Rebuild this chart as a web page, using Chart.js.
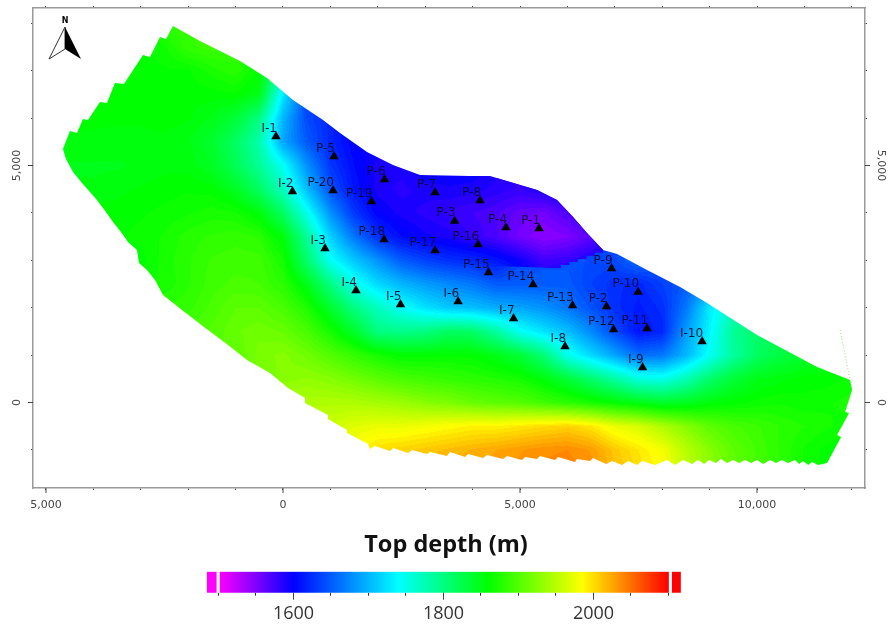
<!DOCTYPE html>
<html lang="en">
<head>
    <title>Top depth map</title>
    <script src="https://cdn.jsdelivr.net/npm/chart.js"></script>
    <style>
        html, body { margin: 0; background: #fff; overflow: hidden; }
        canvas { position: absolute; left: 0; filter: blur(0.5px); }
        #mapChart { top: 0; }
        #barChart { top: 525px; }
    </style>
</head>
<body>
    <canvas id="mapChart" width="888" height="525"></canvas>
    <canvas id="barChart" width="892" height="100"></canvas>
    <script>
        // wells, metres on the map
        const wellNames = ['I-1','I-2','I-3','I-4','I-5','I-6','I-7','I-8','I-9','I-10','P-1','P-2','P-3','P-4','P-5','P-6','P-7','P-8','P-9','P-10','P-11','P-12','P-13','P-14','P-15','P-16','P-17','P-18','P-19','P-20'];
        const wellX = [-148,200,886,1540,2479,3693,4864,5950,7585,8841,5402,6826,3619,4705,1076,2142,3207,4157,6931,7491,7680,6974,6108,5275,4336,4115,3207,2131,1867,1055];
        const wellY = [5614,4454,3251,2365,2069,2133,1774,1183,740,1289,3673,2027,3831,3694,5192,4707,4433,4264,2829,2333,1563,1542,2048,2491,2745,3335,3209,3441,4243,4475];

        const xTicks = [-5000,-4000,-3000,-2000,-1000,0,1000,2000,3000,4000,5000,6000,7000,8000,9000,10000,11000,12000];
        const yTicks = [-1000,0,1000,2000,3000,4000,5000,6000,7000,8000];

        // depth every 500 m
        const gridX = [-5000,-4500,-4000,-3500,-3000,-2500,-2000,-1500,-1000,-500,0,500,1000,1500,2000,2500,3000,3500,4000,4500,5000,5500,6000,6500,7000,7500,8000,8500,9000,9500,10000,10500,11000,11500,12000];
        const gridY = [8000,7500,7000,6500,6000,5500,5000,4500,4000,3500,3000,2500,2000,1500,1000,500,0,-500,-1000,-1500];
        const depthRows = [
            [1860,1860,1860,1860,1860,1880,1888, 1890,1885,1860,1800,1700,1650,1620, 1600,1600,1600,1600,1600,1600,1600, 1600,1600,1600,1600,1600,1600,1600, 1600,1600,1600,1600,1600,1600,1600],
            [1860,1860,1860,1860,1860,1868,1885, 1890,1885,1860,1800,1700,1650,1620, 1600,1600,1600,1600,1600,1600,1600, 1600,1600,1600,1600,1600,1600,1600, 1600,1600,1600,1600,1600,1600,1600],
            [1860,1860,1860,1860,1860,1862,1862, 1872,1880,1860,1790,1680,1640,1620, 1600,1600,1600,1600,1600,1600,1600, 1600,1600,1600,1600,1600,1600,1600, 1600,1600,1600,1600,1600,1600,1600],
            [1860,1860,1860,1860,1858,1860,1860, 1860,1862,1850,1730,1640,1620,1600, 1600,1600,1600,1600,1600,1600,1600, 1600,1600,1600,1600,1600,1600,1600, 1600,1600,1600,1600,1600,1600,1600],
            [1858,1858,1858,1858,1858,1860,1858, 1850,1835,1800,1700,1640,1620,1600, 1600,1600,1600,1600,1600,1600,1600, 1600,1600,1600,1600,1600,1600,1600, 1600,1600,1600,1600,1600,1600,1600],
            [1856,1856,1856,1855,1855,1855,1852, 1840,1815,1780,1690,1650,1620,1600, 1600,1600,1600,1600,1600,1600,1600, 1600,1600,1600,1600,1600,1600,1600, 1600,1600,1600,1600,1600,1600,1600],
            [1850,1850,1850,1850,1852,1855,1855, 1845,1820,1790,1745,1680,1630,1605, 1590,1590,1600,1600,1600,1590,1590, 1600,1600,1600,1600,1600,1600,1600, 1600,1600,1600,1600,1600,1600,1600],
            [1852,1852,1852,1855,1858,1860,1862, 1860,1845,1815,1770,1705,1645,1610, 1590,1585,1590,1592,1590,1585,1580, 1590,1600,1610,1620,1620,1620,1620, 1620,1620,1620,1620,1620,1620,1620],
            [1860,1860,1860,1860,1862,1865,1868, 1872,1870,1855,1815,1750,1680,1630, 1600,1590,1585,1580,1575,1570,1560, 1555,1570,1590,1610,1620,1620,1620, 1620,1620,1620,1620,1620,1620,1620],
            [1862,1862,1862,1862,1865,1870,1878, 1882,1885,1880,1855,1790,1715,1665, 1625,1605,1595,1590,1580,1570,1570, 1600,1620,1630,1635,1640,1650,1660, 1680,1680,1680,1680,1680,1680,1680],
            [1860,1860,1860,1860,1860,1872,1880, 1888,1890,1890,1870,1810,1745,1710, 1680,1650,1635,1625,1620,1610,1640, 1645,1645,1640,1640,1660,1650,1660, 1690,1700,1720,1740,1760,1780,1800],
            [1865,1865,1865,1865,1868,1870,1880, 1890,1895,1893,1880,1850,1800,1750, 1720,1700,1685,1675,1665,1650,1650, 1650,1650,1635,1625,1620,1635,1650, 1670,1700,1740,1780,1800,1820,1840],
            [1880,1880,1880,1880,1880,1882,1885, 1895,1905,1905,1895,1875,1840,1800, 1770,1745,1725,1710,1705,1695,1690, 1680,1665,1645,1625,1615,1625,1665, 1730,1770,1800,1820,1835,1850,1860],
            [1895,1895,1895,1895,1895,1895,1895, 1900,1910,1915,1910,1895,1870,1840, 1800,1795,1800,1815,1812,1785,1745, 1725,1705,1675,1640,1610,1620,1685, 1735,1790,1810,1825,1840,1850,1860],
            [1905,1905,1905,1905,1905,1905,1905, 1905,1905,1920,1925,1915,1900,1885, 1870,1860,1860,1862,1860,1850,1835, 1805,1750,1720,1690,1660,1665,1700, 1745,1785,1815,1830,1840,1850,1860],
            [1915,1915,1915,1915,1915,1915,1915, 1915,1915,1915,1925,1930,1925,1915, 1905,1895,1890,1885,1880,1875,1870, 1855,1835,1810,1785,1755,1750,1775, 1810,1835,1850,1855,1860,1860,1865],
            [1930,1930,1930,1930,1930,1930,1930, 1930,1930,1930,1945,1945,1945,1945, 1940,1935,1925,1920,1910,1905,1900, 1890,1880,1870,1860,1850,1840,1845, 1855,1860,1865,1868,1865,1868,1872],
            [1960,1960,1960,1960,1960,1960,1960, 1960,1960,1960,1960,1960,1960,1970, 1975,1975,1980,1985,1990,1990,1995, 2000,2005,1995,1975,1965,1945,1925, 1905,1895,1888,1880,1875,1870,1865],
            [1985,1985,1985,1985,1985,1985,1985, 1985,1985,1985,1985,1985,1985,1985, 2000,2005,2010,2015,2020,2025,2030, 2035,2037,2030,2010,1995,1980,1950, 1925,1905,1892,1880,1868,1860,1855],
            [1995,1995,1995,1995,1995,1995,1995, 1995,1995,1995,1995,1995,1995,1995, 2005,2010,2015,2020,2025,2030,2035, 2040,2042,2035,2015,2000,1985,1955, 1930,1910,1895,1882,1870,1860,1855]
        ];

        // block north of the fault, deeper blue
        const blockX = [4500,5000,5500,6000,6500,7000];
        const blockY = [4500,4000,3500,3000,2500];
        const blockRows = [
            [1585,1580,1590,1600,1610,1620],
            [1570,1560,1555,1570,1590,1610],
            [1570,1555,1545,1550,1565,1590],
            [1610,1595,1575,1580,1590,1600],
            [1640,1620,1600,1600,1600,1610]
        ];
        const blockOutline = [[4494,2880],[5676,2838],[5860,2838],[5860,2900],[6040,2900],[6040,2965],[6220,2965],[6220,3030],[6400,3030],[6400,3095],[6580,3095],[6580,3160],[6752,3160],[6752,4800],[4494,4800]];

        // edge of the gridded area
        const fieldOutline = [[-2321,7944],[-1751,7628],[-907,7206],[-338,6847],[211,6383],[844,5961],[1203,5687],[1772,5286],[2321,5011],[2891,4800],[3946,4779],[4368,4779],[4790,4653],[5359,4484],[5781,4273],[6119,3914],[6414,3576],[6752,3218],[7047,3133],[7680,2796],[8377,2437],[8946,2097],[10001,1424],[11267,749],[11964,475],
            [12006,264],[11858,-200],[11943,-222],[11689,-686],[11774,-728],[11478,-1277],
            [11288,-1319],[11162,-1255],[11078,-1319],[10972,-1234],[10888,-1298],[10803,-1213],[10655,-1277],[10529,-1213],[10402,-1277],[10276,-1213],[10128,-1298],[10001,-1213],[9875,-1277],[9748,-1213],[9622,-1277],[9495,-1213],[9368,-1277],[9242,-1192],[9136,-1277],[8989,-1213],[8883,-1298],[8757,-1213],[8630,-1298],[8440,-1213],[8271,-1319],[8102,-1213],[7849,-1319],[7575,-1234],[7469,-1319],[7280,-1234],[7153,-1319],[6942,-1234],[6815,-1298],[6541,-1171],[6478,-1234],[6203,-1192],[6161,-1255],[5803,-1150],[5739,-1213],[5423,-1129],[5359,-1192],[5106,-1150],[5043,-1213],[4726,-1129],[4642,-1192],[4304,-1108],[4220,-1171],[3904,-1087],[3840,-1150],[3524,-1044],[3460,-1129],[3102,-1044],[3038,-1087],[2722,-1002],[2638,-1066],[2321,-960],[2258,-1023],[1941,-918],[1836,-981],
            [1794,-876],[1350,-644],[1350,-580],[949,-348],[949,-264],[464,-11],[464,95],[105,306],[-274,622],[-760,897],[-1160,1213],[-1667,1593],[-2131,1952],[-2532,2268],[-2701,2585],[-2870,2796],[-3038,2943],[-3081,3218],[-3270,3387],[-3418,3598],[-3587,3809],[-3735,4020],[-3925,4273],[-4072,4442],[-4241,4631],[-4431,4864],[-4579,5138],[-4642,5349],[-4494,5729],[-4347,5687],[-4220,5982],[-4115,5961],[-3861,6341],[-3714,6320],[-3545,6742],[-3355,6721],[-2954,7333],[-2806,7290],[-2595,7712],[-2469,7670]];

        // colour bar
        const colorDepths = [1500,1600,1740,1860,1985,2100];
        const colorValues = [[255,0,255],[0,0,255],[0,255,255],[0,255,0],[255,255,0],[255,0,0]];
        const barLabels = [1600,1800,2000];

        function depthColor(v) {
            if (v <= colorDepths[0]) return colorValues[0];
            for (let i = 1; i < colorDepths.length; i++) {
                if (v <= colorDepths[i]) {
                    const t = (v - colorDepths[i - 1]) / (colorDepths[i] - colorDepths[i - 1]);
                    return colorValues[i].map((c, k) => Math.round(colorValues[i - 1][k] + (c - colorValues[i - 1][k]) * t));
                }
            }
            return colorValues[colorValues.length - 1];
        }

        function sample(xs, ys, rows, x, y) {
            const stepX = xs[1] - xs[0], stepY = ys[0] - ys[1];
            let fx = (x - xs[0]) / stepX, fy = (ys[0] - y) / stepY;
            fx = Math.max(0, Math.min(xs.length - 1.001, fx));
            fy = Math.max(0, Math.min(ys.length - 1.001, fy));
            const i = Math.floor(fx), j = Math.floor(fy), a = fx - i, b = fy - j;
            return (rows[j][i] * (1 - a) + rows[j][i + 1] * a) * (1 - b) + (rows[j + 1][i] * (1 - a) + rows[j + 1][i + 1] * a) * b;
        }

        function tracePolygon(ctx, chart, pts) {
            ctx.beginPath();
            pts.forEach((p, i) => {
                const px = chart.scales.x.getPixelForValue(p[0]), py = chart.scales.y.getPixelForValue(p[1]);
                if (i === 0) ctx.moveTo(px, py); else ctx.lineTo(px, py);
            });
            ctx.closePath();
        }

        function renderField(chart, xs, ys, rows) {
            const area = chart.chartArea;
            const w = Math.ceil(area.width), h = Math.ceil(area.height);
            const off = document.createElement('canvas');
            off.width = w; off.height = h;
            const octx = off.getContext('2d');
            const img = octx.createImageData(w, h);
            for (let py = 0; py < h; py++) {
                const y = chart.scales.y.getValueForPixel(area.top + py + 0.5);
                for (let px = 0; px < w; px++) {
                    const x = chart.scales.x.getValueForPixel(area.left + px + 0.5);
                    // contour bands like the original
                    const v = Math.round(sample(xs, ys, rows, x, y) / 6) * 6;
                    const c = depthColor(v), k = (py * w + px) * 4;
                    img.data[k] = c[0]; img.data[k + 1] = c[1]; img.data[k + 2] = c[2]; img.data[k + 3] = 255;
                }
            }
            octx.putImageData(img, 0, 0);
            return off;
        }

        const fieldPlugin = {
            id: 'field',
            beforeDatasetsDraw(chart) {
                const ctx = chart.ctx, area = chart.chartArea;
                ctx.save();
                tracePolygon(ctx, chart, fieldOutline);
                ctx.clip();
                ctx.drawImage(renderField(chart, gridX, gridY, depthRows), area.left, area.top);
                tracePolygon(ctx, chart, blockOutline);
                ctx.clip();
                ctx.drawImage(renderField(chart, blockX, blockY, blockRows), area.left, area.top);
                ctx.restore();
            }
        };

        const wellLabelPlugin = {
            id: 'wellLabels',
            afterDatasetsDraw(chart) {
                const ctx = chart.ctx;
                const meta = chart.getDatasetMeta(1);
                ctx.save();
                ctx.font = '12px "DejaVu Sans"';
                ctx.fillStyle = 'rgba(10,10,40,0.9)';
                ctx.textAlign = 'right';
                ctx.textBaseline = 'middle';
                meta.data.forEach((pt, i) => ctx.fillText(wellNames[i], pt.x + 1, pt.y - 8));
                ctx.restore();
            }
        };

        // long marks at the labelled ticks
        function drawMajorTicks(ctx, scale, len) {
            ctx.strokeStyle = '#444';
            ctx.lineWidth = 1;
            scale.ticks.forEach(t => {
                if (t.label === '') return;
                const p = scale.getPixelForValue(t.value);
                ctx.beginPath();
                if (scale.position === 'bottom') { ctx.moveTo(p, scale.top); ctx.lineTo(p, scale.top + len); }
                if (scale.position === 'left') { ctx.moveTo(scale.right, p); ctx.lineTo(scale.right - len, p); }
                if (scale.position === 'right') { ctx.moveTo(scale.left, p); ctx.lineTo(scale.left + len, p); }
                ctx.stroke();
            });
        }

        const northPlugin = {
            id: 'north',
            afterDraw(chart) {
                const ctx = chart.ctx;
                ctx.save();
                ['x', 'y', 'y2'].forEach(id => drawMajorTicks(ctx, chart.scales[id], 5));
                ctx.beginPath();
                ctx.moveTo(65, 27); ctx.lineTo(49, 59); ctx.lineTo(65, 49); ctx.closePath();
                ctx.fillStyle = '#fff'; ctx.fill();
                ctx.strokeStyle = '#333'; ctx.lineWidth = 1; ctx.stroke();
                ctx.beginPath();
                ctx.moveTo(65, 27); ctx.lineTo(81, 59); ctx.lineTo(65, 49); ctx.closePath();
                ctx.fillStyle = '#000'; ctx.fill();
                ctx.font = 'bold 8px "DejaVu Sans"';
                ctx.textAlign = 'center';
                ctx.textBaseline = 'middle';
                ctx.fillText('N', 65, 21);
                ctx.restore();
            }
        };

        function mapAxis(position, min, max, size, labelled, tickValues) {
            const horizontal = position === 'top' || position === 'bottom';
            const axis = {
                type: 'linear',
                position: position,
                min: min,
                max: max,
                border: { color: '#999', width: 1.5 },
                grid: { drawOnChartArea: false, drawTicks: true, tickLength: 2, tickColor: '#444', tickWidth: 1 },
                ticks: {
                    display: labelled,
                    autoSkip: false,
                    color: '#444',
                    font: { family: '"DejaVu Sans"', size: 11 },
                    padding: horizontal ? 9 : -2,
                    callback: v => v % 5000 === 0 ? Math.abs(v).toLocaleString('en-US') : ''
                },
                afterBuildTicks: s => { s.ticks = tickValues.map(v => ({ value: v })); }
            };
            const noOverhang = s => { s.paddingTop = s.paddingBottom = s.paddingLeft = s.paddingRight = 0; };
            if (horizontal) {
                axis.ticks.maxRotation = 0;
                axis.afterFit = s => { s.height = size; noOverhang(s); };
            } else {
                axis.ticks.minRotation = position === 'left' ? 90 : -90;
                axis.ticks.maxRotation = position === 'left' ? 90 : -90;
                axis.ticks.crossAlign = 'center';
                axis.afterFit = s => { s.width = size; noOverhang(s); };
            }
            return axis;
        }

        const xMin = -5274, xMax = 12278, yMin = -1804, yMax = 8323;

        new Chart(document.getElementById('mapChart'), {
            type: 'scatter',
            plugins: [fieldPlugin, wellLabelPlugin, northPlugin],
            data: {
                datasets: [{
                    label: 'Top depth',
                    data: gridY.flatMap((y, j) => gridX.map((x, i) => ({ x: x, y: y, v: depthRows[j][i] }))),
                    pointRadius: 0,
                    pointHoverRadius: 0
                }, {
                    label: 'Wells',
                    data: wellX.map((x, i) => ({ x: x, y: wellY[i] })),
                    pointStyle: 'triangle',
                    pointRadius: 5.5,
                    backgroundColor: '#000',
                    borderColor: '#000',
                    borderWidth: 0
                }, {
                    label: 'Edge trace',
                    data: [{ x: 11752, y: 1530 }, { x: 11964, y: 475 }],
                    showLine: true,
                    pointRadius: 0,
                    borderColor: 'rgba(90,220,60,0.7)',
                    borderWidth: 1,
                    borderDash: [1, 2]
                }]
            },
            options: {
                responsive: false,
                animation: false,
                events: [],
                layout: { padding: 0 },
                plugins: { legend: { display: false }, tooltip: { enabled: false } },
                scales: {
                    x: mapAxis('bottom', xMin, xMax, 37, true, xTicks),
                    x2: mapAxis('top', xMin, xMax, 8, false, xTicks),
                    y: mapAxis('left', yMin, yMax, 33, true, yTicks),
                    y2: mapAxis('right', yMin, yMax, 23, true, yTicks)
                }
            }
        });

        function barFill(ctx) {
            const chart = ctx.chart;
            if (!chart.chartArea) return '#00f';
            const sc = chart.scales.x;
            const x0 = sc.getPixelForValue(colorDepths[0]), x1 = sc.getPixelForValue(colorDepths[colorDepths.length - 1]);
            const g = chart.ctx.createLinearGradient(x0, 0, x1, 0);
            colorDepths.forEach((d, i) => g.addColorStop((d - colorDepths[0]) / (colorDepths[colorDepths.length - 1] - colorDepths[0]), 'rgb(' + colorValues[i].join(',') + ')'));
            return g;
        }

        const barTickPlugin = {
            id: 'barTicks',
            afterDraw(chart) {
                chart.ctx.save();
                drawMajorTicks(chart.ctx, chart.scales.x, 7);
                chart.ctx.restore();
            }
        };

        new Chart(document.getElementById('barChart'), {
            type: 'bar',
            plugins: [barTickPlugin],
            data: {
                labels: ['Top depth'],
                datasets: [
                    { data: [[1485, 1497]], backgroundColor: '#ff00ff' },
                    { data: [[1502, 2100]], backgroundColor: barFill },
                    { data: [[2105, 2116]], backgroundColor: '#ff0000' }
                ]
            },
            options: {
                indexAxis: 'y',
                responsive: false,
                animation: false,
                events: [],
                layout: { padding: 0 },
                grouped: false,
                barPercentage: 1,
                categoryPercentage: 1,
                plugins: {
                    legend: { display: false },
                    tooltip: { enabled: false },
                    title: {
                        display: true,
                        text: 'Top depth (m)',
                        color: '#111',
                        font: { family: '"Open Sans"', size: 23.5, weight: 'bold', lineHeight: 1.2 },
                        padding: { top: 6, bottom: 12.5 }
                    }
                },
                scales: {
                    x: {
                        type: 'linear',
                        position: 'bottom',
                        min: 1208.67,
                        max: 2398,
                        border: { display: false },
                        grid: { drawOnChartArea: false, tickLength: 3, tickColor: '#333' },
                        ticks: {
                            stepSize: 50,
                            autoSkip: false,
                            maxRotation: 0,
                            color: '#333',
                            padding: 7,
                            font: { family: '"Open Sans"', size: 18 },
                            callback: v => barLabels.includes(v) ? String(v) : ''
                        },
                        afterBuildTicks: s => { s.ticks = s.ticks.filter(t => t.value >= 1500 && t.value <= 2100 && t.value % 50 === 0); },
                        afterFit: s => { s.height = 32.3; }
                    },
                    y: { display: false }
                }
            }
        });
    </script>
</body>
</html>
